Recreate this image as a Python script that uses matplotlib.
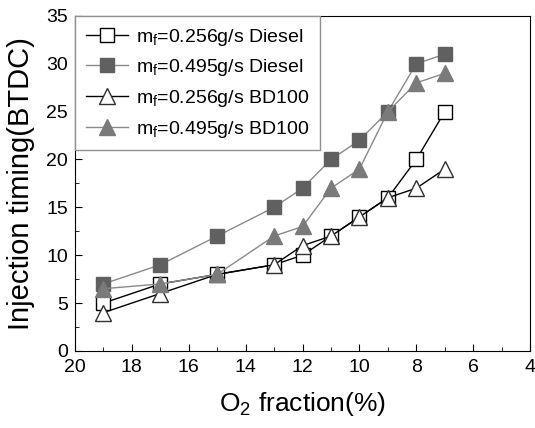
import matplotlib

matplotlib.use("Agg")
import matplotlib.pyplot as plt  # noqa: E402
from matplotlib.ticker import MultipleLocator  # noqa: E402

plt.rcParams["font.family"] = ["Liberation Sans", "DejaVu Sans"]
plt.rcParams["mathtext.fontset"] = "custom"
plt.rcParams["mathtext.rm"] = "Liberation Sans"
plt.rcParams["mathtext.it"] = "Liberation Sans"

# O2 fraction (%) and injection timing (deg BTDC)
o2 = [19, 17, 15, 13, 12, 11, 10, 9, 8, 7]
diesel_256 = [5, 7, 8, 9, 10, 12, 14, 16, 20, 25]
diesel_495 = [7, 9, 12, 15, 17, 20, 22, 25, 30, 31]
bd100_256 = [4, 6, 8, 9, 11, 12, 14, 16, 17, 19]
bd100_495 = [6.5, 7, 8, 12, 13, 17, 19, 25, 28, 29]

labels = [
    r"m$_\mathregular{f}$=0.256g/s Diesel",
    r"m$_\mathregular{f}$=0.495g/s Diesel",
    r"m$_\mathregular{f}$=0.256g/s BD100",
    r"m$_\mathregular{f}$=0.495g/s BD100",
]

fig = plt.figure(figsize=(5.35, 4.28), dpi=100)
ax = fig.add_axes([0.140, 0.180, 0.851, 0.783])

ax.plot(o2, diesel_256, "-s", color="black", lw=1.0, ms=9.5,
        mfc="white", mec="black", mew=1.0, label=labels[0])
ax.plot(o2, diesel_495, "-s", color="#8a8a8a", lw=1.0, ms=9.5,
        mfc="#606060", mec="#606060", label=labels[1])
ax.plot(o2, bd100_256, "-^", color="black", lw=1.0, ms=12,
        mfc="white", mec="#303030", mew=1.0, label=labels[2])
ax.plot(o2, bd100_495, "-^", color="#8a8a8a", lw=1.0, ms=12,
        mfc="#7a7a7a", mec="#7a7a7a", label=labels[3])

ax.set_xlim(20, 4)
ax.set_ylim(0, 35)
ax.xaxis.set_major_locator(MultipleLocator(2))
ax.xaxis.set_minor_locator(MultipleLocator(1))
ax.yaxis.set_major_locator(MultipleLocator(5))
ax.yaxis.set_minor_locator(MultipleLocator(2.5))
ax.tick_params(which="both", direction="in", labelsize=14)
ax.tick_params(which="major", length=5)
ax.tick_params(which="minor", length=3)
ax.tick_params(axis="x", pad=6)
ax.tick_params(axis="y", pad=5)

ax.set_xlabel(r"O$_\mathregular{2}$ fraction(%)", fontsize=19, labelpad=10)
ax.set_ylabel("Injection timing(BTDC)", fontsize=21, labelpad=8)

leg = ax.legend(loc="upper left", fontsize=14, borderaxespad=0, fancybox=False,
                edgecolor="#909090", framealpha=1, handlelength=2.2,
                handletextpad=0.4, labelspacing=0.5, borderpad=0.55)
leg.get_frame().set_linewidth(1.0)

fig.savefig("out.png", dpi=100)
